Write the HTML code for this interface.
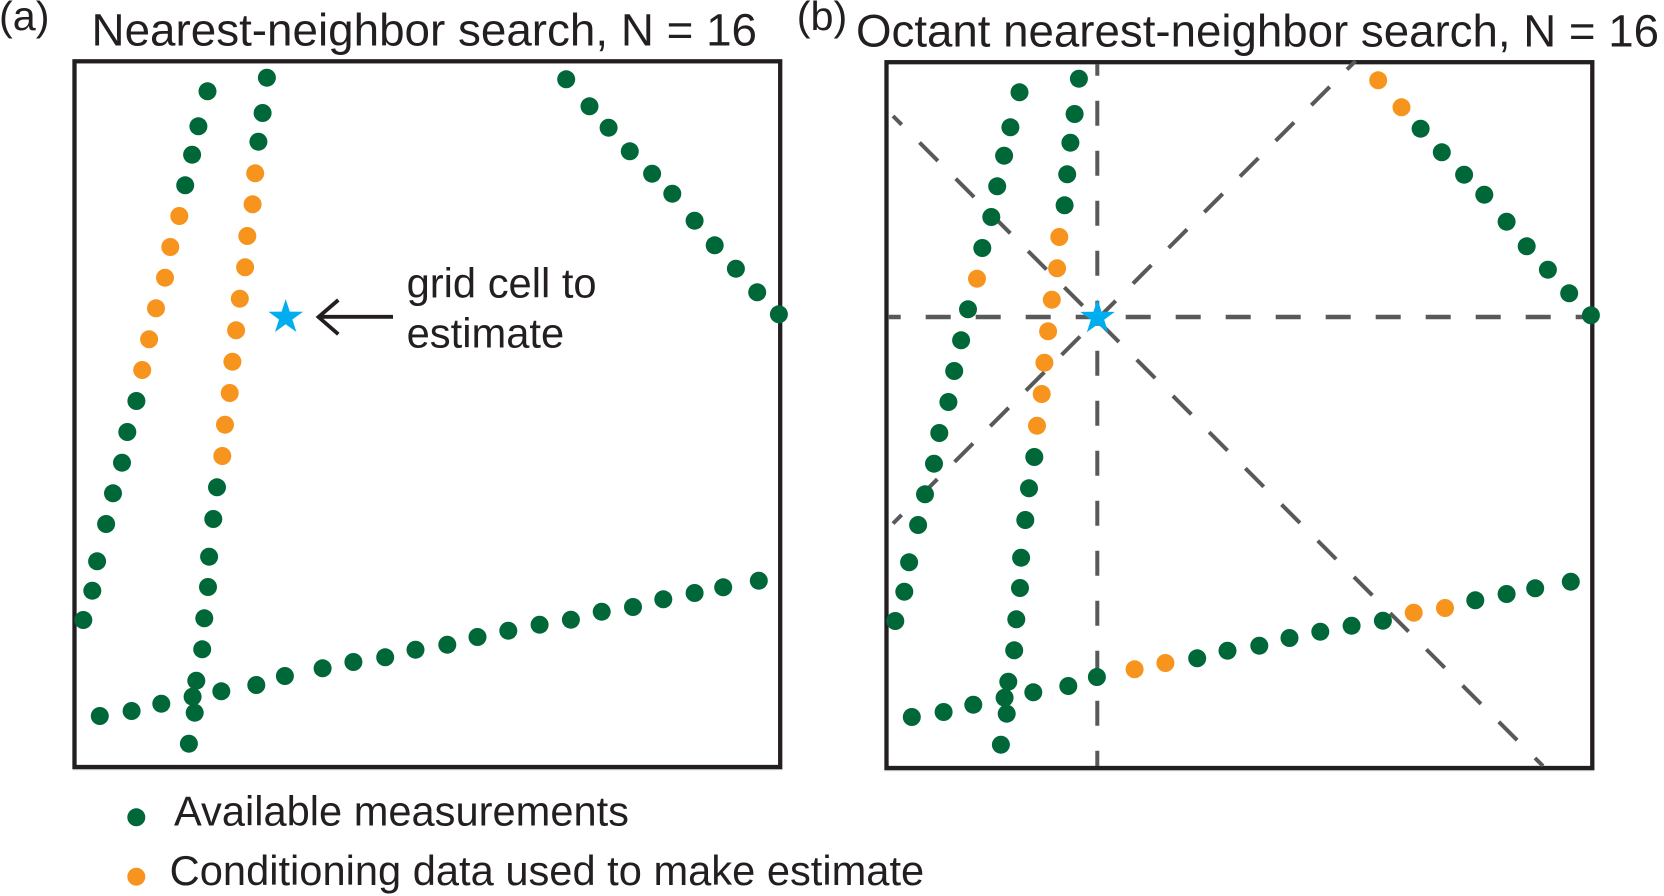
<!DOCTYPE html>
<html><head><meta charset="utf-8"><title>Nearest-neighbor search</title>
<style>html,body{margin:0;padding:0;background:#fff}svg{display:block}text{font-family:"Liberation Sans",Arial,sans-serif;fill:#231f20}.g{fill:#006838}.o{fill:#f7941e}circle{r:9px}</style></head>
<body>
<svg xmlns="http://www.w3.org/2000/svg" width="1664" height="896" viewBox="0 0 1664 896">
<rect width="1664" height="896" fill="#fff"/>
<text x="-1" y="30" font-size="41" textLength="50.5" lengthAdjust="spacingAndGlyphs">(a)</text>
<text x="91.5" y="45.7" font-size="45.8" textLength="665.5" lengthAdjust="spacingAndGlyphs">Nearest-neighbor search, N = 16</text>
<text x="796.8" y="30" font-size="41" textLength="50.5" lengthAdjust="spacingAndGlyphs">(b)</text>
<text x="856" y="46.3" font-size="45.7" textLength="803" lengthAdjust="spacingAndGlyphs">Octant nearest-neighbor search, N = 16</text>
<rect x="72.5" y="769.2" width="710" height="1" fill="#c8c8c8"/>
<rect x="884.5" y="770.2" width="710" height="1" fill="#c8c8c8"/>
<rect x="74.5" y="61.3" width="705.7" height="705.7" fill="none" stroke="#231f20" stroke-width="4.3"/>
<rect x="886.5" y="62.2" width="705.8" height="705.8" fill="none" stroke="#231f20" stroke-width="4.3"/>

<g fill="none" stroke="#58595b">
<line x1="888.8" y1="317" x2="1590" y2="317" stroke-width="4.6" stroke-dasharray="25 25" stroke-dashoffset="13.1"/>
<line x1="1097.3" y1="64" x2="1097.3" y2="766" stroke-width="4" stroke-dasharray="25 25" stroke-dashoffset="13.3"/>
<line x1="893" y1="116" x2="1543" y2="766" stroke-width="4" stroke-dasharray="26 25.2" stroke-dashoffset="13.7"/>
<line x1="1355.5" y1="61" x2="893" y2="523.5" stroke-width="4" stroke-dasharray="26 24.45" stroke-dashoffset="14"/>
</g>

<g>
<g class="g">
<circle cx="207.5" cy="91.3" r="9"/><circle cx="198.4" cy="126.3" r="9"/><circle cx="192.1" cy="154.7" r="9"/><circle cx="185.2" cy="185.3" r="9"/>
<circle cx="136.4" cy="401" r="9"/><circle cx="127.3" cy="432" r="9"/><circle cx="122" cy="462.7" r="9"/><circle cx="113" cy="493.3" r="9"/><circle cx="106.1" cy="524" r="9"/><circle cx="97.1" cy="561.3" r="9"/><circle cx="92.3" cy="590.7" r="9"/><circle cx="83.3" cy="620" r="9"/>
<circle cx="266.9" cy="77.7" r="9"/><circle cx="262.6" cy="113" r="9"/><circle cx="258.4" cy="141.7" r="9"/>
<circle cx="217" cy="487.3" r="9"/><circle cx="213.3" cy="519" r="9"/><circle cx="209.1" cy="556.7" r="9"/><circle cx="208" cy="587" r="9"/><circle cx="204.3" cy="618.3" r="9"/><circle cx="202.2" cy="649.3" r="9"/><circle cx="196.3" cy="680.7" r="9"/><circle cx="192.6" cy="696.7" r="9"/><circle cx="194.7" cy="712.7" r="9"/><circle cx="188.9" cy="743.7" r="9"/>
<circle cx="99.8" cy="716" r="9"/><circle cx="131.6" cy="711" r="9"/><circle cx="161.3" cy="703.7" r="9"/><circle cx="221.3" cy="691.3" r="9"/><circle cx="256.3" cy="685" r="9"/><circle cx="284.9" cy="676" r="9"/><circle cx="322.6" cy="668.3" r="9"/><circle cx="353.4" cy="662" r="9"/><circle cx="385.2" cy="657.3" r="9"/><circle cx="415.5" cy="649.7" r="9"/><circle cx="447.3" cy="644.7" r="9"/><circle cx="477.5" cy="637" r="9"/><circle cx="508.3" cy="630.7" r="9"/><circle cx="539.6" cy="624.7" r="9"/><circle cx="570.9" cy="619.7" r="9"/><circle cx="601.7" cy="611.7" r="9"/><circle cx="633" cy="607" r="9"/><circle cx="663.3" cy="599.3" r="9"/><circle cx="694.6" cy="593" r="9"/><circle cx="723.2" cy="587.3" r="9"/><circle cx="758.8" cy="580.7" r="9"/>
<circle cx="566.2" cy="79.3" r="9"/><circle cx="589.5" cy="106.3" r="9"/><circle cx="608.6" cy="127.7" r="9"/><circle cx="629.8" cy="151.3" r="9"/><circle cx="652.1" cy="173.7" r="9"/><circle cx="672.3" cy="193.7" r="9"/><circle cx="694.6" cy="220.7" r="9"/><circle cx="714.7" cy="245.3" r="9"/><circle cx="735.9" cy="268.7" r="9"/><circle cx="757.2" cy="292.3" r="9"/><circle cx="778.9" cy="314.3" r="9"/>
<circle cx="136.3" cy="817.3" r="9"/>
</g>
<g class="o">
<circle cx="179.3" cy="216" r="9"/><circle cx="170.3" cy="247" r="9"/><circle cx="165" cy="277.7" r="9"/><circle cx="156" cy="308.3" r="9"/><circle cx="149.1" cy="339.3" r="9"/><circle cx="142.2" cy="370" r="9"/>
<circle cx="255.2" cy="173.3" r="9"/><circle cx="252.6" cy="204.3" r="9"/><circle cx="247.3" cy="236" r="9"/><circle cx="245.1" cy="267.3" r="9"/><circle cx="239.8" cy="298.7" r="9"/><circle cx="236.1" cy="330.3" r="9"/><circle cx="232.4" cy="361.7" r="9"/><circle cx="229.7" cy="393" r="9"/><circle cx="225" cy="424.7" r="9"/><circle cx="222.3" cy="456" r="9"/>
<circle cx="136.3" cy="876.7" r="9"/>
</g>
</g>

<g transform="translate(812,1)">
<g class="g">
<circle cx="207.5" cy="91.3" r="9"/><circle cx="198.4" cy="126.3" r="9"/><circle cx="192.1" cy="154.7" r="9"/><circle cx="185.2" cy="185.3" r="9"/><circle cx="179.3" cy="216" r="9"/><circle cx="170.3" cy="247" r="9"/>
<circle cx="156" cy="308.3" r="9"/><circle cx="149.1" cy="339.3" r="9"/><circle cx="142.2" cy="370" r="9"/>
<circle cx="136.4" cy="401" r="9"/><circle cx="127.3" cy="432" r="9"/><circle cx="122" cy="462.7" r="9"/><circle cx="113" cy="493.3" r="9"/><circle cx="106.1" cy="524" r="9"/><circle cx="97.1" cy="561.3" r="9"/><circle cx="92.3" cy="590.7" r="9"/><circle cx="83.3" cy="620" r="9"/>
<circle cx="266.9" cy="77.7" r="9"/><circle cx="262.6" cy="113" r="9"/><circle cx="258.4" cy="141.7" r="9"/><circle cx="255.2" cy="173.3" r="9"/><circle cx="252.6" cy="204.3" r="9"/>
<circle cx="222.3" cy="456" r="9"/><circle cx="217" cy="487.3" r="9"/><circle cx="213.3" cy="519" r="9"/><circle cx="209.1" cy="556.7" r="9"/><circle cx="208" cy="587" r="9"/><circle cx="204.3" cy="618.3" r="9"/><circle cx="202.2" cy="649.3" r="9"/><circle cx="196.3" cy="680.7" r="9"/><circle cx="192.6" cy="696.7" r="9"/><circle cx="194.7" cy="712.7" r="9"/><circle cx="188.9" cy="743.7" r="9"/>
<circle cx="99.8" cy="716" r="9"/><circle cx="131.6" cy="711" r="9"/><circle cx="161.3" cy="703.7" r="9"/><circle cx="221.3" cy="691.3" r="9"/><circle cx="256.3" cy="685" r="9"/><circle cx="284.9" cy="676" r="9"/><circle cx="385.2" cy="657.3" r="9"/><circle cx="415.5" cy="649.7" r="9"/><circle cx="447.3" cy="644.7" r="9"/><circle cx="477.5" cy="637" r="9"/><circle cx="508.3" cy="630.7" r="9"/><circle cx="539.6" cy="624.7" r="9"/><circle cx="570.9" cy="619.7" r="9"/><circle cx="663.3" cy="599.3" r="9"/><circle cx="694.6" cy="593" r="9"/><circle cx="723.2" cy="587.3" r="9"/><circle cx="758.8" cy="580.7" r="9"/>
<circle cx="608.6" cy="127.7" r="9"/><circle cx="629.8" cy="151.3" r="9"/><circle cx="652.1" cy="173.7" r="9"/><circle cx="672.3" cy="193.7" r="9"/><circle cx="694.6" cy="220.7" r="9"/><circle cx="714.7" cy="245.3" r="9"/><circle cx="735.9" cy="268.7" r="9"/><circle cx="757.2" cy="292.3" r="9"/><circle cx="778.9" cy="314.3" r="9"/>
</g>
<g class="o">
<circle cx="165" cy="277.7" r="9"/>
<circle cx="247.3" cy="236" r="9"/><circle cx="245.1" cy="267.3" r="9"/><circle cx="239.8" cy="298.7" r="9"/><circle cx="236.1" cy="330.3" r="9"/><circle cx="232.4" cy="361.7" r="9"/><circle cx="229.7" cy="393" r="9"/><circle cx="225" cy="424.7" r="9"/>
<circle cx="322.6" cy="668.3" r="9"/><circle cx="353.4" cy="662" r="9"/><circle cx="601.7" cy="611.7" r="9"/><circle cx="633" cy="607" r="9"/>
<circle cx="566.2" cy="79.3" r="9"/><circle cx="589.5" cy="106.3" r="9"/>
</g>
</g>

<polygon transform="translate(285.7,317.3)" fill="#00aeef" points="0,-18.2 4.1,-5.7 17.3,-5.6 6.7,2.2 10.7,14.7 0,7 -10.7,14.7 -6.7,2.2 -17.3,-5.6 -4.1,-5.7"/>
<polygon transform="translate(1097.5,317.5)" fill="#00aeef" points="0,-18.2 4.1,-5.7 17.3,-5.6 6.7,2.2 10.7,14.7 0,7 -10.7,14.7 -6.7,2.2 -17.3,-5.6 -4.1,-5.7"/>

<line x1="393" y1="316.8" x2="320" y2="316.8" stroke="#231f20" stroke-width="3.8"/>
<polyline points="338.3,300 318.5,317 338.3,334.2" fill="none" stroke="#231f20" stroke-width="3.8"/>
<text x="406.6" y="297.3" font-size="41.7">grid cell to</text>
<text x="406.6" y="347.5" font-size="41.7">estimate</text>
<text x="174" y="825.7" font-size="41.6" textLength="455" lengthAdjust="spacingAndGlyphs">Available measurements</text>
<text x="169.7" y="885" font-size="41.6" textLength="754.5" lengthAdjust="spacingAndGlyphs">Conditioning data used to make estimate</text>
</svg>
</body></html>
